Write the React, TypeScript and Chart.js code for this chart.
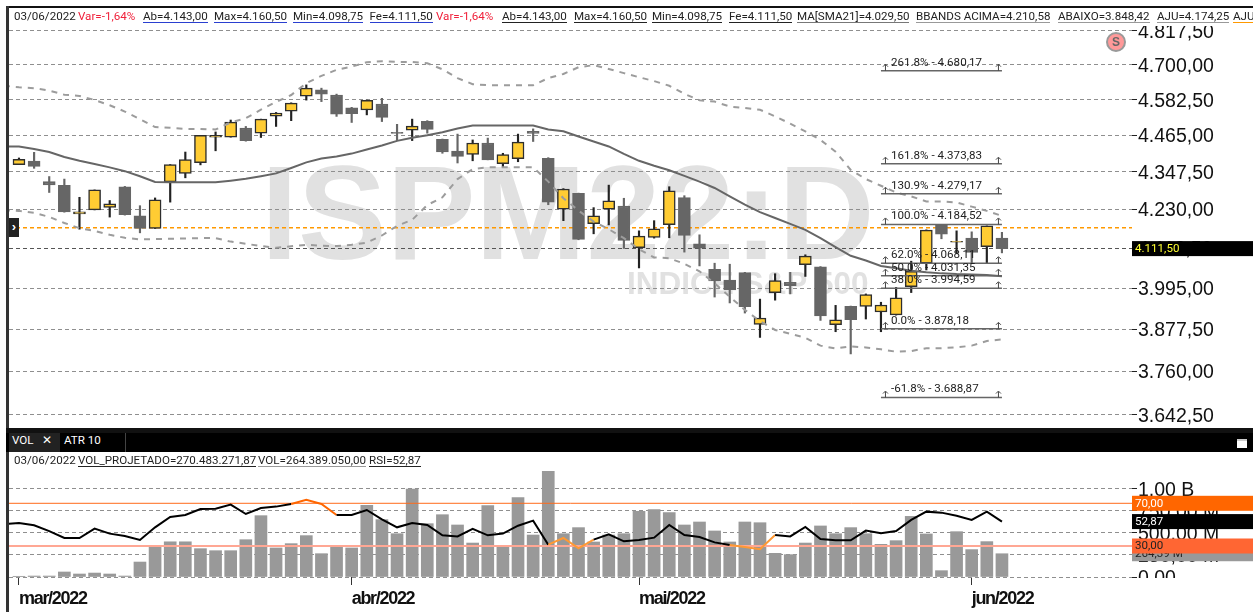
import React, { useEffect, useRef } from "react";
import { Chart, registerables } from "chart.js";

Chart.register(...registerables);

const opens = [4371,4382,4317,4305,4217,4229,4237,4301,4211,4172,4316,4343,4377,4459,4459,4489,4472,4528,4544,4594,4615,4598,4555,4548,4568,4475,4482,4511,4452,4414,4403,4440,4374,4390,4478,4391,4231,4280,4187,4231,4241,4114,4145,4184,4267,4126,4050,4018,4040,3891,3982,4012,4064,4057,3890,3942,3942,3926,3918,3999,4068,4183,4131,4143,4117,4143];
const highs = [4392,4410,4333,4325,4268,4291,4258,4302,4242,4266,4371,4411,4465,4476,4515,4494,4518,4540,4572,4632,4621,4601,4557,4581,4587,4501,4518,4513,4453,4469,4450,4456,4407,4469,4486,4393,4295,4281,4236,4306,4265,4165,4196,4301,4273,4153,4068,4065,4041,3963,4037,4041,4093,4058,3945,3943,3978,3954,3997,4074,4168,4184,4165,4162,4180,4160.5];
const lows = [4371,4359,4283,4222,4170,4229,4207,4213,4159,4172,4253,4329,4370,4415,4459,4446,4458,4494,4513,4581,4576,4527,4507,4532,4510,4448,4448,4472,4407,4376,4383,4386,4363,4380,4445,4245,4196,4138,4156,4183,4112,4054,4143,4144,4101,4060,3969,3952,3923,3854,3960,3978,4029,3902,3870,3808,3906,3870,3917,3982,4048,4141,4098,4068,4068,4098.75];
const closes = [4388,4365,4307,4223,4223,4291,4248,4214,4172,4260,4371,4387,4465,4465,4508,4448,4518,4538,4571,4621,4601,4534,4536,4580,4524,4471,4495,4484,4411,4397,4440,4386,4403,4443,4471,4253,4294,4139,4211,4257,4136,4149,4171,4288,4151,4113,4016,3990,3941,3909,4017,4002,4089,3915,3904,3904,3976,3946,3967,4044,4167,4155,4133,4100,4180,4111.5];

// The three overlays and the RSI start one session before the first candle (index -1).
const ma21 = [4429,4429,4421,4411,4395,4383,4373,4362,4350,4334,4316,4315,4315,4315,4315,4320,4326,4334,4343,4360,4378,4390,4397,4406,4419,4432,4447,4457,4465,4475,4487,4497,4497,4497,4497,4497,4484,4478,4461,4445,4429,4405,4383,4367,4353,4335,4317,4297,4271,4245,4222,4204,4186,4168,4143,4116,4090,4076,4060,4053,4046,4041,4038,4036,4035,4033,4029.5];
const bbUpper = [4629,4624,4621,4613,4599,4595,4581.5,4564,4543,4518,4492,4489.5,4486,4486,4484,4507,4521,4549,4575,4598,4638,4662.5,4683,4694,4709,4712.5,4710,4710,4705.5,4685,4655,4634.5,4631,4631,4631,4631,4655,4669,4692,4699,4686,4672,4658,4645,4629,4602,4580.5,4576,4559.5,4555,4549,4527,4503,4478,4450,4412,4354,4325,4304,4283,4271,4255,4255,4252,4239,4226,4210.58];
const bbLower = [4228,4226,4220,4207.5,4189,4173,4165,4153,4144,4139,4140,4141,4142,4143,4143,4132.5,4126,4119,4114,4118.5,4123,4120,4119,4123,4129.5,4151,4180,4198.5,4244,4268,4325,4356,4362.5,4362.5,4362.5,4362.5,4317,4265,4227,4193,4170,4143,4109.5,4085,4083,4066,4044,4009,3970,3932,3900,3875,3864,3853,3831,3823,3829,3826,3821,3814,3816,3824,3824,3826,3831,3844,3848.42];
const rsi = [50.3,51.6,49.4,44,37.5,37.5,46.3,41.6,39.4,35.6,47.5,57.2,59,64.7,65,68.8,60,65.6,66.9,69.4,73.4,69.4,59,59,63.75,55,47.5,51.6,49.7,40,39,46,40,41.6,49,53.75,31.25,37.5,27.8,36,41,34.4,35.6,37.8,49.7,40.3,38.4,33.4,31,29,27,40.3,39,47.8,36.6,35.3,35.3,44.4,41.9,44,54.4,62.2,61.25,58.4,54.4,62.2,52.87];
const volumeM = [8,11,11,57,34,45,34,11,170,348,400,400,322,299,299,424,697,330,379,470,265,348,330,814,652,492,1000,606,708,591,386,811,337,902,477,1200,492,561,398,477,492,746,765,731,591,625,523,398,625,617,269,254,386,580,492,561,492,371,413,689,489,72,515,311,402,264.39];
const rsiHotSegments = [18,19,20];
const rsiColdSegments = [35,36,37,47,48,49];

const priceTicks = [4817.5,4700,4582.5,4465,4347.5,4230,4112.5,3995,3877.5,3760,3642.5];
const volTicks = [0,250,500,750,1000];
const volTickLabels = ["0,00","250,00 M","500,00 M","750,00 M","1,00 B"];
const monthTicks = [0,22,41,63];
const monthLabels = ["mar/2022","abr/2022","mai/2022","jun/2022"];
const fibPct = ["261.8%","161.8%","130.9%","100.0%","62.0%","50.0%","38.0%","0.0%","-61.8%"];
const fibPrice = [4680.17,4373.83,4279.17,4184.52,4068.11,4031.35,3994.59,3878.18,3688.87];
const fibStart = 57;
const fibEnd = 65;
const adjustPrice = 4174.25;
const lastPrice = 4111.5;
const lastRsi = 52.87;
const lastVol = 264.39;
const rsiHigh = 70;
const rsiLow = 30;

const xMin = -0.66;
const xMax = 73.6;
const priceMax = 4835;
const priceMin = 3608;
const volMax = 1238.6;
const rsiMin = 0.96;
const rsiMax = 103.07;

const TEXT = "Roboto, 'Noto Sans', sans-serif";
const AXIS = "'Liberation Sans', Arial, sans-serif";

const topStrip = [
  { t: "03/06/2022", x: 14, c: "#222", u: "" },
  { t: "Var=-1,64%", x: 78, c: "#f0203a", u: "" },
  { t: "Ab=4.143,00", x: 143, c: "#222", u: "#2a3fd0" },
  { t: "Max=4.160,50", x: 214, c: "#222", u: "#2a3fd0" },
  { t: "Min=4.098,75", x: 293, c: "#222", u: "#2a3fd0" },
  { t: "Fe=4.111,50", x: 369.5, c: "#222", u: "#2a3fd0" },
  { t: "Var=-1,64%", x: 436, c: "#f0203a", u: "" },
  { t: "Ab=4.143,00", x: 502, c: "#222", u: "#222" },
  { t: "Max=4.160,50", x: 574, c: "#222", u: "#222" },
  { t: "Min=4.098,75", x: 652, c: "#222", u: "#222" },
  { t: "Fe=4.111,50", x: 729, c: "#222", u: "#222" },
  { t: "MA[SMA21]=4.029,50", x: 797, c: "#222", u: "#777" },
  { t: "BBANDS ACIMA=4.210,58", x: 916, c: "#222", u: "#999" },
  { t: "ABAIXO=3.848,42", x: 1058, c: "#222", u: "#999" },
  { t: "AJU=4.174,25", x: 1157, c: "#222", u: "#999" },
  { t: "AJU", x: 1233, c: "#222", u: "#ff9900" },
];
const lowStrip = [
  { t: "03/06/2022", x: 14, c: "#222", u: "" },
  { t: "VOL_PROJETADO=270.483.271,87", x: 78, c: "#222", u: "#222" },
  { t: "VOL=264.389.050,00", x: 258, c: "#222", u: "#999" },
  { t: "RSI=52,87", x: 369, c: "#222", u: "#222" },
];

const fmt = (v: number) =>
  v.toLocaleString("pt-BR", { minimumFractionDigits: 2, maximumFractionDigits: 2 });
const leadSeries = (a: number[]) => a.map((y, i) => ({ x: i - 1, y }));
const levelLine = (y: number) => [{ x: xMin, y }, { x: xMax, y }];
const sized = (w: number) => (s: any) => { s.width = w; s.paddingTop = 0; s.paddingBottom = 0; };

// Wraps a scale's label drawing once, so its labels can be nudged or tightened.
const tuneLabels = (c: any, s: any, dy: number, spacing: string) => {
  if (s.__tuned) return;
  s.__tuned = true;
  const draw = s.drawLabels;
  s.drawLabels = function (area: any) {
    c.ctx.save();
    c.ctx.translate(0, dy);
    c.ctx.letterSpacing = spacing;
    draw.call(s, area);
    c.ctx.restore();
  };
};

function Strip({ items, top, height }: any) {
  return (
    <>
      {items.map((it: any, i: number) => (
        <span
          key={i}
          style={{
            position: "absolute", left: it.x, top, height, lineHeight: `${height - 1}px`,
            font: `11.6px ${TEXT}`, color: it.c, whiteSpace: "nowrap",
            borderBottom: it.u ? `1px solid ${it.u}` : "none",
          }}
        >
          {it.t}
        </span>
      ))}
    </>
  );
}

export default function App() {
  const mainRef = useRef<HTMLCanvasElement>(null);
  const subRef = useRef<HTMLCanvasElement>(null);

  useEffect(() => {
    const idx = opens.map((_, i) => i);
    const isUp = (i: number) => closes[i] >= opens[i];

    const mainPlugin = {
      id: "mainDecor",
      beforeDraw(c: any) {
        tuneLabels(c, c.scales.y, 1.5, "0px");
        const g = c.ctx;
        g.save();
        g.fillStyle = "#e1e1e1";
        g.textBaseline = "alphabetic";
        g.font = `bold 133px ${AXIS}`;
        g.fillText("ISPM22:D", 261, 259);
        g.font = `bold 31.5px ${AXIS}`;
        g.fillText("INDICE S&P 500", 627, 294);
        g.restore();
      },
      afterDatasetsDraw(c: any) {
        const g = c.ctx;
        const sx = c.scales.x;
        const sy = c.scales.y;
        const x0 = sx.getPixelForValue(fibStart);
        const x1 = sx.getPixelForValue(fibEnd);
        g.save();
        fibPrice.forEach((p, i) => {
          const y = sy.getPixelForValue(p);
          g.strokeStyle = "#444";
          g.lineWidth = 1;
          [x0 + 4, x1 - 4].forEach((x) => {
            g.beginPath();
            g.moveTo(x + 0.5, y);
            g.lineTo(x + 0.5, y - 6);
            g.moveTo(x - 2, y - 4);
            g.lineTo(x + 0.5, y - 6.5);
            g.lineTo(x + 3, y - 4);
            g.stroke();
          });
          g.fillStyle = "#222";
          g.font = `11.6px ${TEXT}`;
          g.textBaseline = "middle";
          g.textAlign = "left";
          g.fillText(`${fibPct[i]} - ${fmt(p)}`, x0 + 10, y - 8);
        });
        g.restore();
      },
      afterDraw(c: any) {
        const g = c.ctx;
        const y = c.scales.y.getPixelForValue(lastPrice);
        g.save();
        g.fillStyle = "#000";
        g.fillRect(c.chartArea.right, y - 7.5, 121, 15);
        g.fillStyle = "#ffff33";
        g.font = `11.6px ${TEXT}`;
        g.textBaseline = "middle";
        g.textAlign = "left";
        g.fillText(fmt(lastPrice), c.chartArea.right + 3, y + 0.5);
        g.restore();
      },
    };

    const main = new Chart(mainRef.current as HTMLCanvasElement, {
      type: "bar",
      plugins: [mainPlugin],
      data: {
        datasets: [
          ...fibPrice.map((p) => ({
            type: "line" as const, order: 0, yAxisID: "y",
            data: [{ x: fibStart, y: p }, { x: fibEnd, y: p }],
            borderColor: "#666", borderWidth: 1.5, pointRadius: 0,
          })),
          { type: "line" as const, order: 1, data: leadSeries(ma21), borderColor: "#666", borderWidth: 2, pointRadius: 0, tension: 0 },
          { type: "line" as const, order: 2, data: leadSeries(bbUpper), borderColor: "#9c9c9c", borderWidth: 2, borderDash: [6, 6], pointRadius: 0, tension: 0 },
          { type: "line" as const, order: 2, data: leadSeries(bbLower), borderColor: "#9c9c9c", borderWidth: 2, borderDash: [6, 6], pointRadius: 0, tension: 0 },
          {
            order: 3, grouped: false, barThickness: 12, borderSkipped: false, borderWidth: 1.5,
            data: idx.map((i) => ({ x: i, y: [opens[i], closes[i]] })),
            backgroundColor: idx.map((i) => (isUp(i) ? "#ffcc33" : "#666666")),
            borderColor: idx.map((i) => (isUp(i) ? "#2e2e2e" : "#666666")),
          },
          {
            order: 4, grouped: false, barThickness: 1.5,
            data: idx.map((i) => ({ x: i, y: [lows[i], highs[i]] })),
            backgroundColor: idx.map((i) => (isUp(i) ? "#222222" : "#666666")),
          },
          { type: "line" as const, order: 5, data: levelLine(adjustPrice), borderColor: "#ff9900", borderWidth: 1.5, borderDash: [4, 3], pointRadius: 0 },
        ] as any,
      },
      options: {
        responsive: false,
        animation: false,
        devicePixelRatio: 1,
        layout: { autoPadding: false, padding: { left: 9, top: 26, bottom: 4, right: 0 } },
        plugins: { legend: { display: false }, tooltip: { enabled: false } },
        scales: {
          x: { type: "linear", min: xMin, max: xMax, display: false, offset: false, grid: { offset: false, display: false } },
          y: {
            type: "logarithmic", position: "right", min: priceMin, max: priceMax,
            afterFit: sized(121),
            afterBuildTicks: (s: any) => { s.ticks = priceTicks.map((value) => ({ value })); },
            border: { display: false, dash: [4, 3] },
            grid: {
              color: (k: any) => (k.tick && k.tick.value === 4112.5 ? "#555" : "#8f8f8f"),
              tickColor: "#222", tickLength: 5, lineWidth: 1,
            },
            ticks: {
              autoSkip: false, padding: 1, color: "#111",
              font: { family: AXIS, size: 19.5 },
              callback: (v: any) => fmt(Number(v)),
            },
          },
        },
      } as any,
    });

    const subPlugin = {
      id: "subDecor",
      beforeDraw(c: any) {
        tuneLabels(c, c.scales.x, 0, "-1.3px");
        tuneLabels(c, c.scales.yVol, 1.5, "0px");
      },
      afterDraw(c: any) {
        const g = c.ctx;
        const right = c.chartArea.right;
        const vy = c.scales.yVol;
        const ry = c.scales.yRsi;
        g.save();
        g.fillStyle = "#fff";
        g.fillRect(right, c.chartArea.bottom + 1, 121, 40);
        const tag = (y: number, bg: string, fg: string, label: string) => {
          g.fillStyle = bg;
          g.fillRect(right, y - 7.5, 121, 15);
          g.fillStyle = fg;
          g.font = `11.6px ${TEXT}`;
          g.textBaseline = "middle";
          g.textAlign = "left";
          g.fillText(label, right + 3, y + 0.5);
        };
        tag(vy.getPixelForValue(lastVol), "#999999", "#222", `${fmt(lastVol)} M`);
        tag(ry.getPixelForValue(lastRsi), "#000000", "#fff", fmt(lastRsi));
        tag(ry.getPixelForValue(rsiHigh), "#ff6600", "#fff", fmt(rsiHigh));
        tag(ry.getPixelForValue(rsiLow), "#ff6633", "#222", fmt(rsiLow));
        g.restore();
      },
    };

    const sub = new Chart(subRef.current as HTMLCanvasElement, {
      type: "bar",
      plugins: [subPlugin],
      data: {
        datasets: [
          {
            type: "line" as const, order: 0, yAxisID: "yRsi", data: leadSeries(rsi),
            borderColor: "#000", borderWidth: 2, pointRadius: 0, tension: 0,
            segment: {
              borderColor: (k: any) => {
                const i = k.p0DataIndex - 1;
                if (rsiHotSegments.includes(i)) return "#ff6600";
                if (rsiColdSegments.includes(i)) return "#ff9933";
                return undefined;
              },
            },
          },
          { type: "line" as const, order: 1, yAxisID: "yRsi", data: levelLine(rsiHigh), borderColor: "#ff6a1a", borderWidth: 1, pointRadius: 0 },
          { type: "line" as const, order: 1, yAxisID: "yRsi", data: levelLine(rsiLow), borderColor: "#ffa794", borderWidth: 2, pointRadius: 0 },
          {
            order: 2, yAxisID: "yVol", grouped: false, barThickness: 12,
            data: volumeM.map((y, i) => ({ x: i, y })),
            backgroundColor: "#999999",
          },
        ] as any,
      },
      options: {
        responsive: false,
        animation: false,
        devicePixelRatio: 1,
        layout: { autoPadding: false, padding: { left: 9, top: 36, bottom: 0, right: 0 } },
        plugins: { legend: { display: false }, tooltip: { enabled: false } },
        scales: {
          x: {
            type: "linear", min: xMin, max: xMax, offset: false,
            afterFit: (s: any) => { s.height = 35; s.paddingLeft = 0; s.paddingRight = 0; },
            afterBuildTicks: (s: any) => { s.ticks = monthTicks.map((value) => ({ value })); },
            border: { display: false },
            grid: { offset: false, drawOnChartArea: false, tickColor: "#333", tickLength: 8 },
            ticks: {
              autoSkip: false, maxRotation: 0, minRotation: 0, align: "start", padding: 3, color: "#111",
              font: { family: AXIS, size: 18, weight: "bold" },
              callback: (v: any) => monthLabels[monthTicks.indexOf(Number(v))],
            },
          },
          yVol: {
            position: "right", min: 0, max: volMax,
            afterFit: sized(121),
            afterBuildTicks: (s: any) => { s.ticks = volTicks.map((value) => ({ value })); },
            border: { display: false, dash: [4, 3] },
            grid: { color: "#8f8f8f", tickColor: "#222", tickLength: 5 },
            ticks: {
              autoSkip: false, padding: 1, color: "#111",
              font: { family: AXIS, size: 19.5 },
              callback: (v: any) => volTickLabels[volTicks.indexOf(Number(v))],
            },
          },
          yRsi: { display: false, min: rsiMin, max: rsiMax },
        },
      } as any,
    });

    return () => {
      main.destroy();
      sub.destroy();
    };
  }, []);

  return (
    <div style={{ position: "absolute", left: 0, top: 0, width: 1253, height: 612, overflow: "hidden", background: "#fff" }}>
      <canvas ref={mainRef} width={1253} height={432} style={{ position: "absolute", left: 0, top: 0, display: "block" }} />
      <canvas ref={subRef} width={1253} height={180} style={{ position: "absolute", left: 0, top: 432, display: "block" }} />

      <div style={{ position: "absolute", left: 9, top: 8, width: 1244, height: 18, background: "#fff" }} />
      <Strip items={topStrip} top={9} height={13} />
      <div style={{ position: "absolute", left: 6, top: 6, width: 1247, height: 2, background: "#111" }} />
      <div style={{ position: "absolute", left: 6, top: 6, width: 3, height: 606, background: "#333" }} />
      <div style={{ position: "absolute", left: 9, top: 218, width: 10, height: 19, background: "#222", color: "#fff", font: `bold 13px ${AXIS}`, lineHeight: "18px", textAlign: "center" }}>›</div>

      <div style={{ position: "absolute", left: 1106, top: 32, width: 16, height: 16, borderRadius: "50%", background: "#f99", border: "2px solid #999", color: "#666", font: `bold 12px ${AXIS}`, lineHeight: "16px", textAlign: "center" }}>S</div>

      <div style={{ position: "absolute", left: 6, top: 428, width: 1247, height: 5, background: "#111" }} />
      <div style={{ position: "absolute", left: 6, top: 433, width: 1247, height: 19, background: "#000" }} />
      <div style={{ position: "absolute", left: 9, top: 433, width: 51, height: 19, background: "#222" }} />
      <div style={{ position: "absolute", left: 125, top: 433, width: 1, height: 19, background: "#444" }} />
      <span style={{ position: "absolute", left: 12, top: 433, lineHeight: "19px", font: `11.6px ${TEXT}`, color: "#fff" }}>VOL</span>
      <span style={{ position: "absolute", left: 42, top: 433, lineHeight: "19px", font: `bold 12px 'DejaVu Sans'`, color: "#fff" }}>✕</span>
      <span style={{ position: "absolute", left: 64, top: 433, lineHeight: "19px", font: `11.6px ${TEXT}`, color: "#fff" }}>ATR 10</span>
      <div style={{ position: "absolute", left: 1237, top: 439, width: 10, height: 9, background: "#fff", borderTop: "2px solid #ccc", boxSizing: "border-box" }} />
      <Strip items={lowStrip} top={453} height={13} />
    </div>
  );
}
